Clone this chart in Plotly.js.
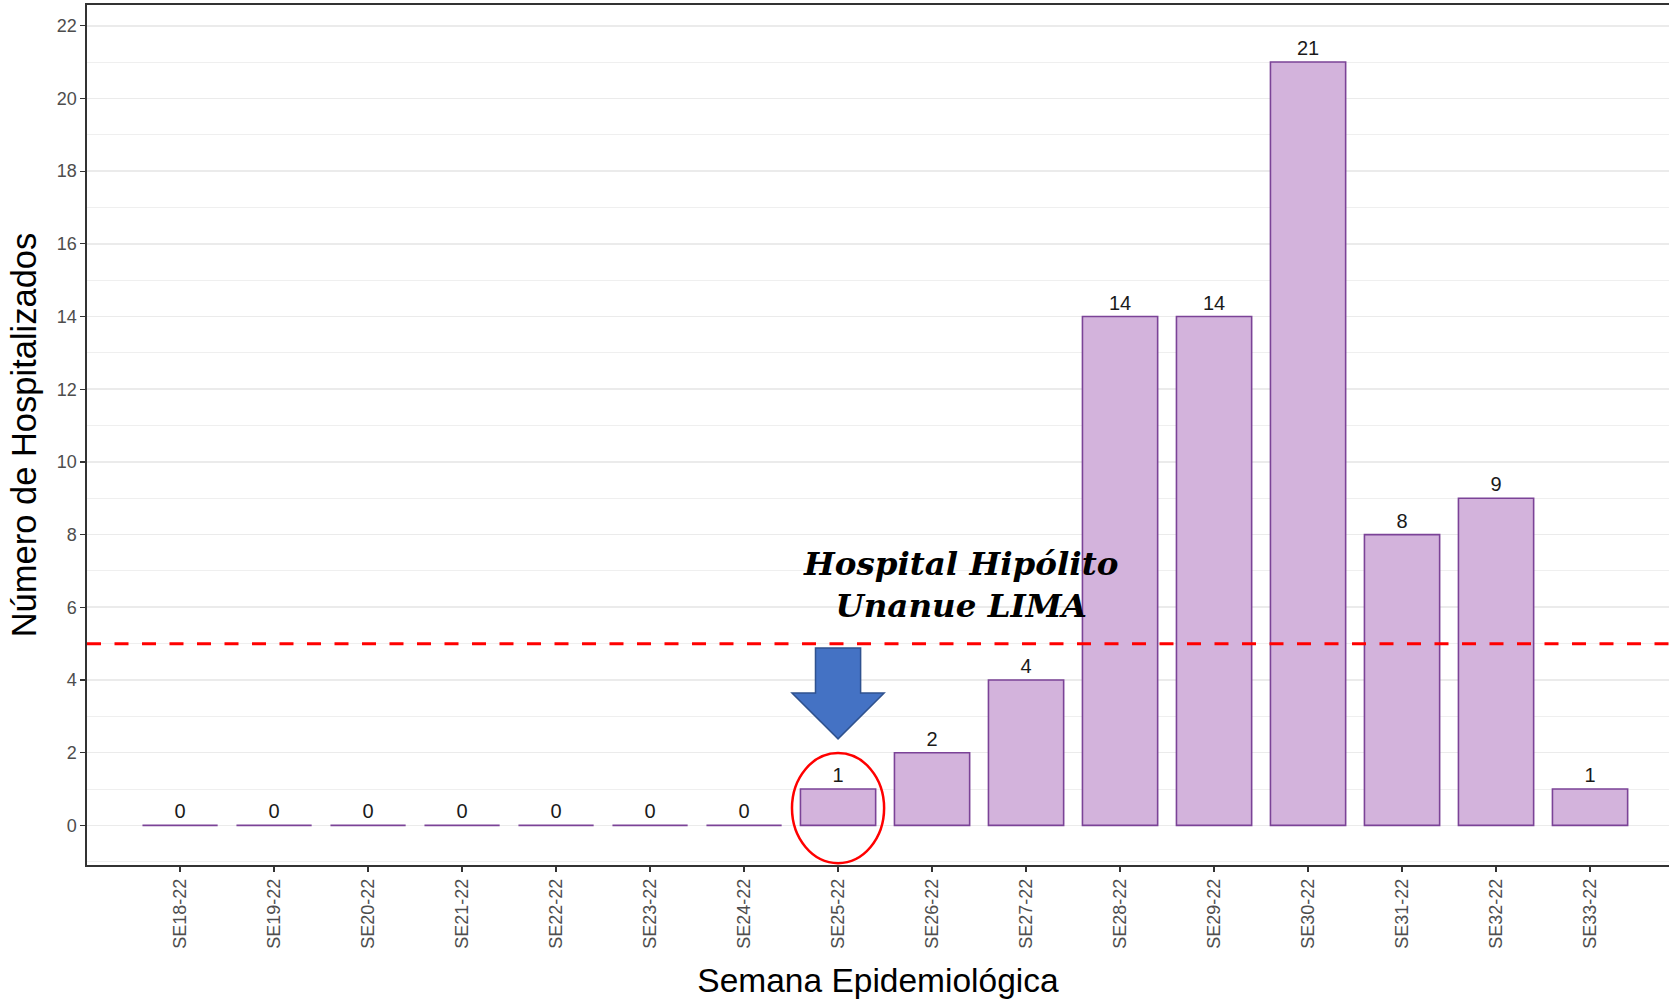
<!DOCTYPE html>
<html>
<head>
<meta charset="utf-8">
<script src="https://cdn.plot.ly/plotly-3.0.1.min.js"></script>
<style>html,body{margin:0;padding:0;background:#fff;overflow:hidden;}</style>
</head>
<body>
<div id="chart" style="width:1669px;height:999px;"></div>
<script>
const semanas = ["SE18-22","SE19-22","SE20-22","SE21-22","SE22-22","SE23-22","SE24-22","SE25-22","SE26-22","SE27-22","SE28-22","SE29-22","SE30-22","SE31-22","SE32-22","SE33-22"];
const hospitalizados = [0,0,0,0,0,0,0,1,2,4,14,14,21,8,9,1];
const umbral = 5;
const semanaDestacada = 7; // index of SE25-22
const anotacion = "Hospital Hipólito<br>Unanue LIMA";

const trace = {
  type: "bar",
  x: semanas,
  y: hospitalizados,
  width: 0.8,
  marker: {color: "#D3B3DC", line: {color: "#7B4397", width: 1.6}},
  text: hospitalizados.map(String),
  textposition: "outside",
  constraintext: "none",
  cliponaxis: false,
  textfont: {family: "Liberation Sans, Arial, sans-serif", size: 20, color: "#1a1a1a"},
  hoverinfo: "x+y"
};

const c = semanaDestacada;
const arrowPath = "M " + (c-0.24) + " 4.88 L " + (c+0.24) + " 4.88 L " + (c+0.24) + " 3.64 L " +
  (c+0.49) + " 3.64 L " + c + " 2.38 L " + (c-0.49) + " 3.64 L " + (c-0.24) + " 3.64 Z";

const layout = {
  width: 1669, height: 999,
  margin: {l: 87, r: 0, t: 5, b: 134},
  paper_bgcolor: "#ffffff", plot_bgcolor: "#ffffff",
  showlegend: false,
  bargap: 0.2,
  xaxis: {
    type: "category",
    range: [-0.99, 15.84],
    showgrid: false, zeroline: false,
    showline: true, linecolor: "#333333", linewidth: 1.6, mirror: true,
    ticks: "outside", ticklen: 5, tickcolor: "#333333", tickwidth: 1.2,
    tickangle: -90,
    tickfont: {family: "Liberation Sans, Arial, sans-serif", size: 18, color: "#4D4D4D"},
    title: {text: "Semana Epidemiológica", standoff: 20,
            font: {family: "Liberation Sans, Arial, sans-serif", size: 33.5, color: "#000000"}}
  },
  yaxis: {
    range: [-1.09, 22.57],
    dtick: 2, tick0: 0,
    showgrid: true, gridcolor: "#EBEBEB", gridwidth: 1.6,
    minor: {dtick: 1, tick0: 0, showgrid: true, gridcolor: "#EFEFEF", gridwidth: 1, ticks: ""},
    zeroline: false,
    showline: true, linecolor: "#333333", linewidth: 1.6,
    ticks: "outside", ticklen: 5, tickcolor: "#333333", tickwidth: 1.2,
    tickfont: {family: "Liberation Sans, Arial, sans-serif", size: 18, color: "#4D4D4D"},
    title: {text: "Número de Hospitalizados", standoff: 9,
            font: {family: "Liberation Sans, Arial, sans-serif", size: 34.5, color: "#000000"}}
  },
  shapes: [
    {type: "line", xref: "paper", x0: 0, x1: 1, yref: "y", y0: umbral, y1: umbral,
     line: {color: "#FF0000", width: 3, dash: "14px,13.5px"}, layer: "above"},
    {type: "path", xref: "x", yref: "y", path: arrowPath,
     fillcolor: "#4472C4", line: {color: "#2F528F", width: 1.5}, layer: "above"},
    {type: "circle", xref: "x", yref: "y", x0: c-0.49, x1: c+0.49, y0: -1.04, y1: 1.99,
     line: {color: "#FF0000", width: 2.5}, fillcolor: "rgba(0,0,0,0)", layer: "above"}
  ],
  annotations: [
    {xref: "x", yref: "y", x: 8.3, y: 6.64, text: anotacion, showarrow: false,
     align: "center", xanchor: "center", yanchor: "middle",
     font: {family: "DejaVu Serif, serif", size: 32.5, color: "#000000", weight: "bold", style: "italic"}}
  ]
};

Plotly.newPlot("chart", [trace], layout, {displayModeBar: false, staticPlot: true});
</script>
</body>
</html>
